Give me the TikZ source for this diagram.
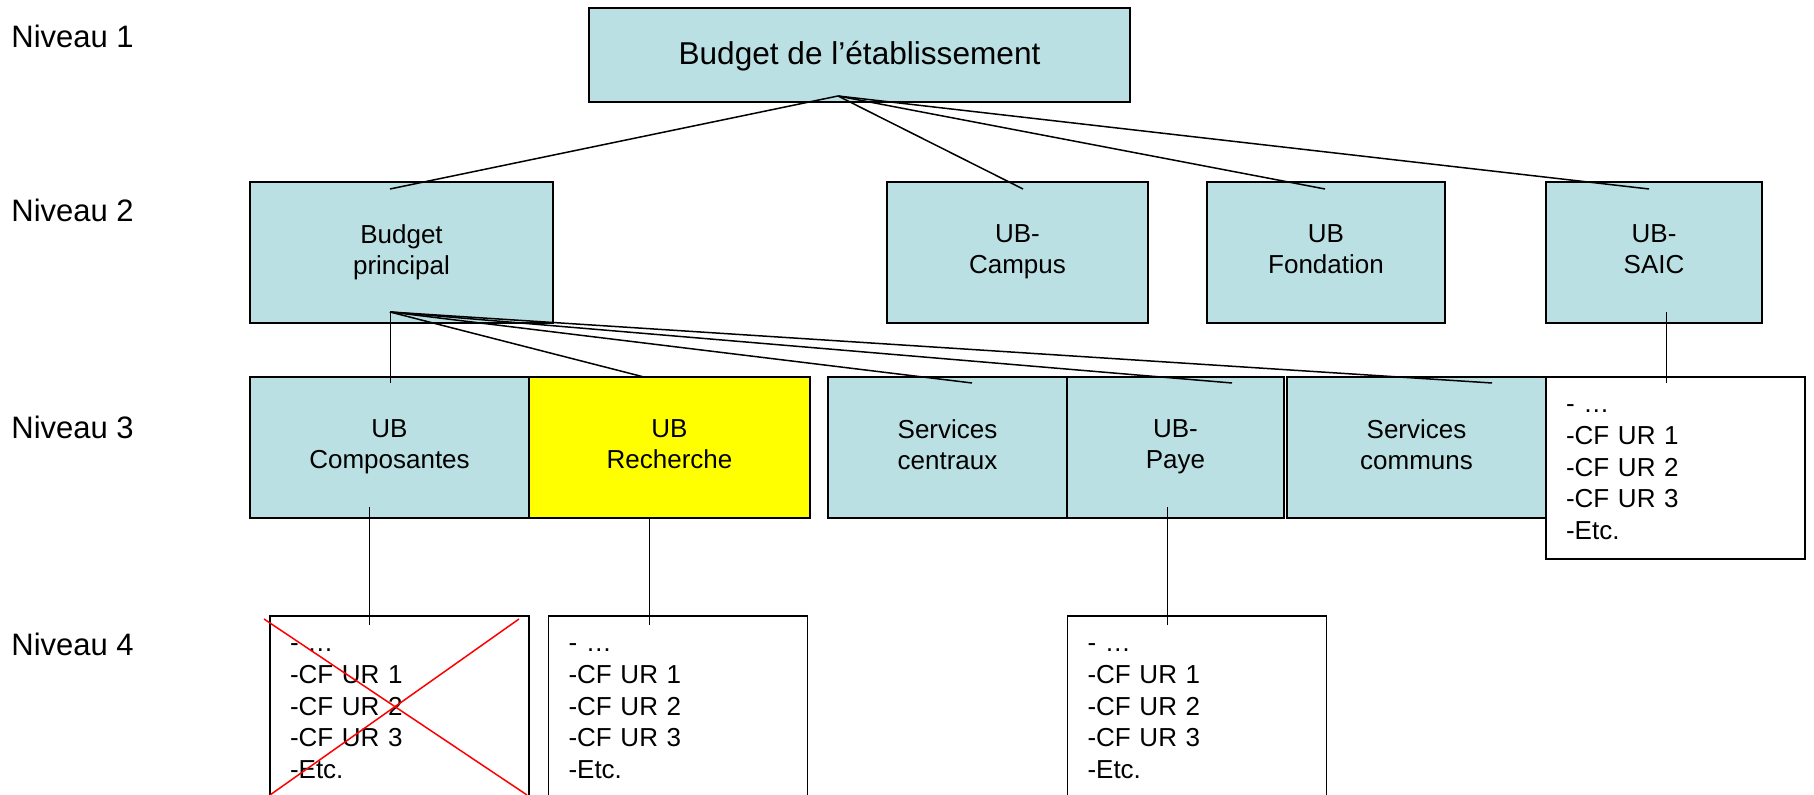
\documentclass[tikz,border=0pt]{standalone}
\usepackage{fontspec}
\setmainfont{Liberation Sans}
\usetikzlibrary{positioning}

\definecolor{ubblue}{RGB}{187,224,227}
\definecolor{ubyellow}{RGB}{255,255,0}

\newcommand\boxstrut{\rule[-3pt]{0pt}{15pt}}
\newcommand\liststrut{\rule[-3pt]{0pt}{14.2pt}}
\newcommand\topstrut{\rule[-2.4pt]{0pt}{15.4pt}}

\tikzset{
	ubox/.style = {draw, line width=0.8pt, fill=ubblue, inner sep=0pt, outer sep=0pt, align=center, minimum height=70.5pt, font=\fontsize{13}{15.5}\selectfont, execute at begin node=\boxstrut, execute at end node=\boxstrut},
	ulist/.style = {draw, line width=0.8pt, fill=white, inner xsep=10pt, inner ysep=0pt, outer sep=0pt, align=left, text width=109.5pt, minimum height=91pt, font=\fontsize{13}{15.8}\selectfont, execute at begin node=\liststrut, execute at end node=\liststrut},
	niveau/.style = {anchor=base west, inner sep=0pt, font=\fontsize{15.5}{18}\selectfont},
	lien/.style = {line width=0.75pt},
	fin/.style = {line width=0.5pt},
}

\begin{document}
\begin{tikzpicture}[x=0.5pt, y=-0.5pt, node distance=0pt]
			\useasboundingbox (0,0) rectangle (1814,795);

			\node[niveau] (niv1) at (11,48) {Niveau 1};
			\node[niveau] (niv2) at (11,222) {Niveau 2};
			\node[niveau] (niv3) at (11,439) {Niveau 3};
			\node[niveau] (niv4) at (11,655) {Niveau 4};

			\node[ubox, minimum width=270.5pt, minimum height=47pt, font=\fontsize{15.8}{18}\selectfont, execute at begin node=\topstrut, execute at end node=] (etab) at (859.5,55) {Budget de l’établissement};

			\node[ubox, minimum width=151.5pt] (bp) at (401.5,252.5) {Budget\\principal};
			\node[ubox, minimum width=130.5pt] (campus) at (1017.5,252.5) {UB-\\Campus};
			\node[ubox, minimum width=119pt] (fond) at (1326,252.5) {UB\\Fondation};
			\node[ubox, minimum width=108pt] (saic) at (1654,252.5) {UB-\\SAIC};

			\node[ubox, minimum width=139.5pt] (comp) at (389.5,447.5) {UB\\Composantes};
			\node[ubox, fill=ubyellow, minimum width=140.5pt, right=of comp] (rech) {UB\\Recherche};
			\node[ubox, minimum width=119.5pt, right=9pt of rech] (centr) {Services\\centraux};
			\node[ubox, minimum width=108.5pt, right=of centr] (paye) {UB-\\Paye};
			\node[ubox, minimum width=129.5pt, right=1.5pt of paye] (comm) {Services\\communs};
			\node[ulist, anchor=north west] (lsaic) at (comm.north east) {- …\\-CF UR 1\\-CF UR 2\\-CF UR 3\\-Etc.};

			\node[ulist] (lcomp) at (399.5,707) {- …\\-CF UR 1\\-CF UR 2\\-CF UR 3\\-Etc.};
			\node[ulist] (lrech) at (678,707) {- …\\-CF UR 1\\-CF UR 2\\-CF UR 3\\-Etc.};
			\node[ulist] (lpaye) at (1197,707) {- …\\-CF UR 1\\-CF UR 2\\-CF UR 3\\-Etc.};

			\coordinate (hub1) at (838,96);
			\draw[lien] (hub1) -- ([shift={(-11.5,7)}]bp.north);
			\draw[lien] (hub1) -- ([shift={(5.5,7)}]campus.north);
			\draw[lien] (hub1) -- ([shift={(-1,7)}]fond.north);
			\draw[lien] (hub1) -- ([shift={(-5,7)}]saic.north);

			\coordinate (hub2) at ([shift={(-11.5,-11)}]bp.south);
			\draw[fin] (hub2) -- ([shift={(0.5,6)}]comp.north);
			\draw[lien] (hub2) -- ([shift={(-25.5,0)}]rech.north);
			\draw[lien] (hub2) -- ([shift={(24.5,6)}]centr.north);
			\draw[lien] (hub2) -- ([shift={(56.5,6)}]paye.north);
			\draw[lien] (hub2) -- ([shift={(75.5,6)}]comm.north);

			\draw[fin] ([shift={(12,-11)}]saic.south) -- ([shift={(-9.5,6)}]lsaic.north);
			\draw[fin] ([shift={(-20.5,-11)}]comp.south) -- ([shift={(-30.5,9)}]lcomp.north);
			\draw[fin] ([shift={(-20.5,0)}]rech.south) -- ([shift={(-29,9)}]lrech.north);
			\draw[fin] ([shift={(-8.5,-11)}]paye.south) -- ([shift={(-30,9)}]lpaye.north);

			\draw[red, line width=0.75pt] ([shift={(-6,3)}]lcomp.north west) -- ([shift={(-2,-3)}]lcomp.south east);
			\draw[red, line width=0.75pt] ([shift={(-10,3)}]lcomp.north east) -- ([shift={(0,-3)}]lcomp.south west);

\end{tikzpicture}
\end{document}
